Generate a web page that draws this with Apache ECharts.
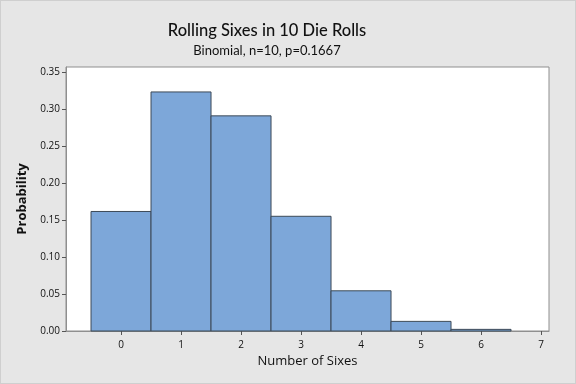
<!DOCTYPE html>
<html><head><meta charset="utf-8">
<script src="https://cdn.jsdelivr.net/npm/echarts@6/dist/echarts.min.js"></script>
<style>html,body{margin:0;padding:0;background:#e6e6e6;}#c{width:576px;height:384px;box-sizing:border-box;border:1px solid #cfcfcf;}</style>
</head><body><div id="c"></div>
<script>
const categories = [0, 1, 2, 3, 4, 5, 6];
const probabilities = [0.1615, 0.3230, 0.2907, 0.1550, 0.0543, 0.0130, 0.0022];
const xTicks = [0, 1, 2, 3, 4, 5, 6, 7];
const yTicks = [0, 0.05, 0.10, 0.15, 0.20, 0.25, 0.30, 0.35];
const titleText = 'Rolling Sixes in 10 Die Rolls';
const subtitleText = 'Binomial, n=10, p=0.1667';

const chart = echarts.init(document.getElementById('c'), null, {renderer: 'canvas'});
const font = '"Open Sans", "Noto Sans", sans-serif';
const tfont = 'Lato, "Open Sans", sans-serif';
chart.setOption({
  backgroundColor: '#e6e6e6',
  animation: false,
  title: {
    text: titleText, subtext: subtitleText, left: 261, top: 16, textAlign: 'center', itemGap: 5,
    textStyle: {fontFamily: tfont, fontSize: 16.5, fontWeight: 500, color: '#111'},
    subtextStyle: {fontFamily: tfont, fontSize: 13, color: '#111'}
  },
  grid: {left: 65, top: 66, width: 483, height: 264, show: true, backgroundColor: '#fff', borderColor: '#8f8f8f', borderWidth: 1},
  xAxis: {
    type: 'value', min: -0.917, max: 7.133,
    name: 'Number of Sixes', nameLocation: 'middle', nameGap: 23,
    nameTextStyle: {fontFamily: font, fontSize: 13, color: '#111'},
    axisLine: {show: true, onZero: false, lineStyle: {color: '#8f8f8f'}},
    axisTick: {show: true, length: 4, customValues: xTicks, lineStyle: {color: '#555'}},
    axisLabel: {customValues: xTicks, fontFamily: font, fontSize: 10, color: '#111', margin: 9},
    splitLine: {show: false}
  },
  yAxis: {
    type: 'value', min: 0, max: 0.3567,
    name: 'Probability', nameLocation: 'middle', nameGap: 37,
    nameTextStyle: {fontFamily: font, fontSize: 13, fontWeight: 'bold', color: '#111'},
    axisLine: {show: true, onZero: false, lineStyle: {color: '#8f8f8f'}},
    axisTick: {show: true, length: 4, customValues: yTicks, lineStyle: {color: '#555'}},
    axisLabel: {customValues: yTicks, fontFamily: font, fontSize: 10, color: '#111', margin: 6,
      formatter: v => v.toFixed(2)},
    splitLine: {show: false}
  },
  series: [{
    type: 'custom',
    data: categories.map((c, i) => [c, probabilities[i]]),
    renderItem: function (params, api) {
      const x = api.value(0), y = api.value(1);
      const p0 = api.coord([x - 0.5, y]);
      const p1 = api.coord([x + 0.5, 0]);
      return {
        type: 'rect',
        shape: {x: p0[0], y: p0[1], width: p1[0] - p0[0], height: p1[1] - p0[1]},
        style: {fill: '#7da7d9', stroke: '#3d4a57', lineWidth: 1}
      };
    }
  }]
});
</script></body></html>
